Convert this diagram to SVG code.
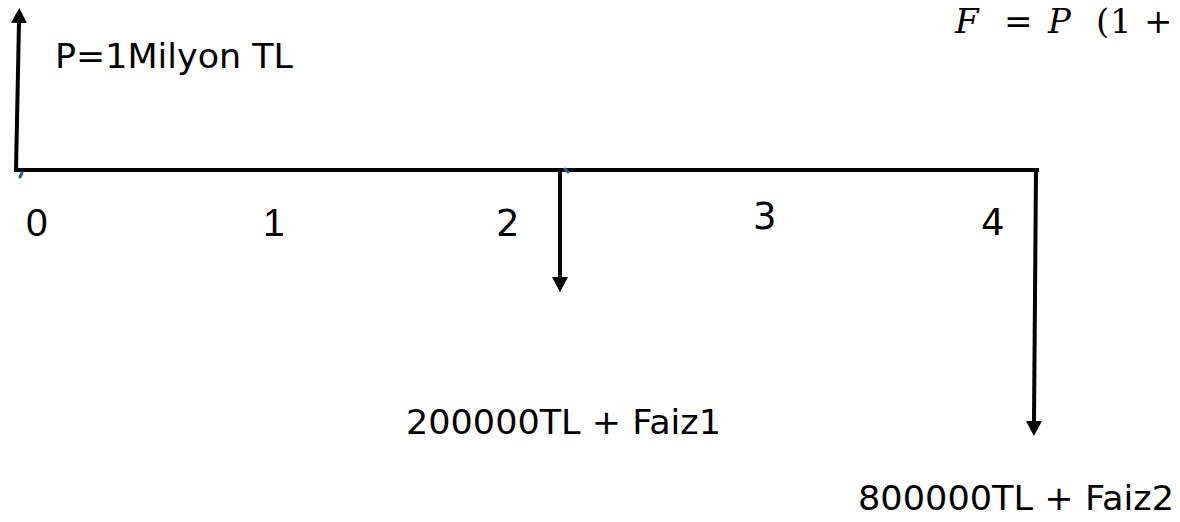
<svg xmlns="http://www.w3.org/2000/svg" width="1180" height="522" viewBox="0 0 1180 522">
  <defs>
    <style>
      .axis { stroke: #000; stroke-width: 4; fill: none; stroke-linecap: square; }
      .flow { stroke: #000; stroke-width: 4; fill: none; marker-end: url(#head); }
      .lbl { font-family: "DejaVu Sans", "Noto Sans", sans-serif; font-size: 34px; fill: #000; }
      .num { font-family: "DejaVu Sans", "Noto Sans", sans-serif; font-size: 37px; fill: #000; }
      .numa { font-family: "Liberation Sans", Arial, sans-serif; font-size: 39px; fill: #000; }
      .eq { font-family: "DejaVu Serif", "Liberation Serif", serif; font-size: 34px; fill: #000; }
      .it { font-style: italic; }
      .tick { stroke: #1f5f9f; stroke-width: 3; stroke-linecap: round; }
    </style>
    <marker id="head" markerUnits="userSpaceOnUse" markerWidth="16" markerHeight="16" refX="1" refY="8" orient="auto">
      <path d="M0,0 L15,8 L0,16 Z" fill="#000"/>
    </marker>
  </defs>
  <rect width="1180" height="522" fill="#fff"/>

  <!-- cash-flow time axis and payment arrows -->
  <g id="connectors">
    <line class="axis" x1="16" y1="170" x2="1037" y2="170"/>
    <line class="flow" x1="16" y1="170" x2="19" y2="22"/>
    <line class="flow" x1="560" y1="170" x2="560" y2="278"/>
    <line class="flow" x1="1036" y1="170" x2="1034" y2="422"/>
    <line class="tick" x1="22" y1="173" x2="20" y2="177"/>
    <line class="tick" x1="565" y1="169" x2="568" y2="172"/>
  </g>

  <!-- period labels -->
  <g id="period-0"><text class="numa" x="26" y="236">0</text></g>
  <g id="period-1"><text class="numa" x="263" y="236">1</text></g>
  <g id="period-2"><text class="num" x="496" y="236">2</text></g>
  <g id="period-3"><text class="num" x="753" y="229">3</text></g>
  <g id="period-4"><text class="num" x="981" y="235">4</text></g>

  <!-- amounts -->
  <g id="principal"><text class="lbl" x="55" y="68" textLength="238" lengthAdjust="spacingAndGlyphs">P=1Milyon TL</text></g>
  <g id="payment-1"><text class="lbl" x="406" y="434" textLength="315" lengthAdjust="spacingAndGlyphs">200000TL + Faiz1</text></g>
  <g id="payment-2"><text class="lbl" x="858" y="510" textLength="316" lengthAdjust="spacingAndGlyphs">800000TL + Faiz2</text></g>

  <!-- formula -->
  <g id="formula">
    <text class="eq" y="33"><tspan class="it" x="955">F</tspan><tspan x="1004">=</tspan><tspan class="it" x="1048">P</tspan><tspan x="1096">(</tspan><tspan x="1110">1</tspan><tspan x="1144">+</tspan></text>
  </g>
</svg>
